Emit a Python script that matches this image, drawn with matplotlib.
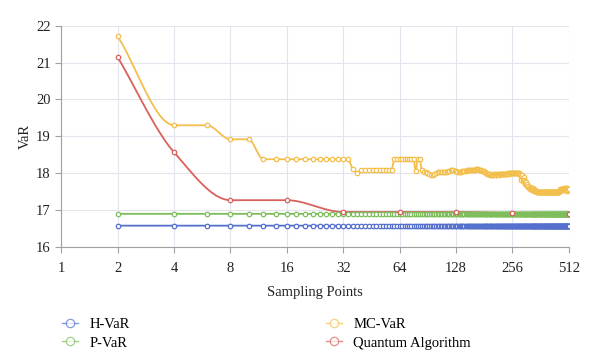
import matplotlib
matplotlib.use('Agg')
import matplotlib.pyplot as plt
import numpy as np

plt.rcParams['font.family'] = ['Liberation Serif', 'DejaVu Serif']

# sampling points (every even number) for H-VaR, P-VaR, MC-VaR
points = np.arange(2, 514, 2)
h_var = np.full(points.size, 16.58)
p_var = np.full(points.size, 16.90)
mc_var = np.array([
    21.72, 19.30, 19.30, 18.92, 18.92, 18.38, 18.38, 18.38, 18.38, 18.38, 18.38, 18.38, 18.38, 18.38, 18.38, 18.38,
    18.38, 18.11, 18.02, 18.10, 18.10, 18.10, 18.10, 18.10, 18.10, 18.10, 18.10, 18.10, 18.10, 18.38, 18.38, 18.38,
    18.38, 18.38, 18.38, 18.38, 18.38, 18.38, 18.07, 18.38, 18.38, 18.09, 18.03, 18.03, 18.00, 17.98, 17.96, 17.96,
    17.98, 18.02, 18.03, 18.03, 18.03, 18.04, 18.03, 18.03, 18.04, 18.05, 18.07, 18.09, 18.09, 18.08, 18.06, 18.05,
    18.04, 18.03, 18.03, 18.04, 18.05, 18.06, 18.07, 18.07, 18.08, 18.08, 18.08, 18.09, 18.09, 18.09, 18.10, 18.10,
    18.10, 18.11, 18.11, 18.11, 18.10, 18.10, 18.09, 18.07, 18.06, 18.05, 18.04, 18.02, 18.00, 17.98, 17.97, 17.97,
    17.96, 17.96, 17.97, 17.96, 17.96, 17.97, 17.97, 17.96, 17.96, 17.97, 17.97, 17.97, 17.96, 17.97, 17.97, 17.98,
    17.98, 17.98, 17.98, 17.99, 17.99, 17.98, 17.99, 17.99, 18.00, 18.00, 17.99, 18.00, 18.00, 18.01, 18.00, 18.00,
    18.01, 18.01, 18.02, 18.02, 18.02, 18.01, 18.01, 18.02, 18.01, 18.00, 18.01, 17.98, 17.96, 17.93, 17.82, 17.95,
    17.85, 17.78, 17.90, 17.82, 17.72, 17.80, 17.70, 17.75, 17.66, 17.70, 17.62, 17.65, 17.60, 17.63, 17.58, 17.61,
    17.56, 17.58, 17.55, 17.60, 17.54, 17.56, 17.53, 17.55, 17.52, 17.53, 17.51, 17.51, 17.50, 17.50, 17.49, 17.50,
    17.50, 17.49, 17.49, 17.50, 17.49, 17.50, 17.50, 17.49, 17.49, 17.50, 17.49, 17.49, 17.50, 17.49, 17.50, 17.50,
    17.49, 17.49, 17.50, 17.50, 17.49, 17.50, 17.49, 17.49, 17.50, 17.50, 17.49, 17.50, 17.50, 17.49, 17.50, 17.50,
    17.50, 17.50, 17.49, 17.50, 17.50, 17.50, 17.49, 17.50, 17.50, 17.50, 17.50, 17.49, 17.50, 17.50, 17.50, 17.50,
    17.50, 17.50, 17.51, 17.51, 17.53, 17.55, 17.57, 17.56, 17.57, 17.55, 17.58, 17.56, 17.57, 17.55, 17.58, 17.56,
    17.59, 17.56, 17.60, 17.55, 17.58, 17.54, 17.60, 17.56, 17.58, 17.53, 17.59, 17.56, 17.55, 17.58, 17.54, 17.57,
])

# quantum algorithm only at powers of two
q_points = np.array([2, 4, 8, 16, 32, 64, 128, 256, 512])
q_var = np.array([21.15, 18.57, 17.27, 17.27, 16.95, 16.95, 16.95, 16.92, 16.90])

x_ticks = [1, 2, 4, 8, 16, 32, 64, 128, 256, 512]
y_ticks = [16, 17, 18, 19, 20, 21, 22]

colors = {'H-VaR': '#5470cc', 'P-VaR': '#7dbd5a', 'MC-VaR': '#f3bf4c',
          'Quantum Algorithm': '#d8615c'}


def smooth(x, y, n=12):
    # monotone cubic (pchip) in log2(x) space
    u = np.log2(x)
    h = np.diff(u)
    d = np.diff(y) / h
    m = np.zeros_like(y)
    for i in range(1, len(y) - 1):
        if d[i - 1] * d[i] > 0:
            w1 = 2 * h[i] + h[i - 1]
            w2 = h[i] + 2 * h[i - 1]
            m[i] = (w1 + w2) / (w1 / d[i - 1] + w2 / d[i])
    m[0] = d[0]
    m[-1] = d[-1]
    us, ys = [], []
    t = np.linspace(0, 1, n, endpoint=False)
    for i in range(len(y) - 1):
        h00 = 2 * t**3 - 3 * t**2 + 1
        h10 = t**3 - 2 * t**2 + t
        h01 = -2 * t**3 + 3 * t**2
        h11 = t**3 - t**2
        us.append(u[i] + t * h[i])
        ys.append(h00 * y[i] + h10 * h[i] * m[i] + h01 * y[i + 1] + h11 * h[i] * m[i + 1])
    us.append([u[-1]])
    ys.append([y[-1]])
    return 2 ** np.concatenate(us), np.concatenate(ys)


fig = plt.figure(figsize=(6, 3.57), dpi=100)
ax = fig.add_axes([0.102, 0.308, 0.846, 0.62])

series = [('H-VaR', points, h_var), ('P-VaR', points, p_var),
          ('MC-VaR', points, mc_var), ('Quantum Algorithm', q_points, q_var)]
handles = []
for name, xs, ys in series:
    c = colors[name]
    sx, sy = smooth(xs, ys)
    ax.plot(sx, sy, color=c, lw=1.3, zorder=3)
    ax.plot(xs, ys, ls='none', marker='o', ms=3.2, mfc='white', mec=c, mew=0.9, zorder=4)
    h, = ax.plot([], [], color=c, lw=1.0, marker='o', ms=6, mfc='white', mec=c, mew=0.9, alpha=0.7)
    handles.append(h)

ax.set_xscale('log', base=2)
ax.set_xlim(1, 512)
ax.set_ylim(16, 22)
ax.set_xticks(x_ticks)
ax.set_xticklabels([str(v) for v in x_ticks])
ax.set_yticks(y_ticks)
ax.minorticks_off()
ax.grid(True, color='#e4e4ef', lw=0.8, zorder=0)
for s in ['top', 'right']:
    ax.spines[s].set_visible(False)
for s in ['left', 'bottom']:
    ax.spines[s].set_color('#a0a0a0')
ax.tick_params(colors='#a0a0a0', labelcolor='#222222', labelsize=10.5, length=4, width=0.8)
ax.tick_params(axis='x', pad=7)
ax.set_xlabel('Sampling Points', fontsize=10.5, color='#222222', labelpad=8)
ax.set_ylabel('VaR', fontsize=10.5, color='#222222', labelpad=3)

fig.legend(handles, [s[0] for s in series], ncol=2, loc='center left',
           bbox_to_anchor=(0.082, 0.065), frameon=False, fontsize=10.5,
           handlelength=1.1, columnspacing=13.4, labelspacing=0.35, handletextpad=0.8)

fig.savefig('out.png', dpi=100)
